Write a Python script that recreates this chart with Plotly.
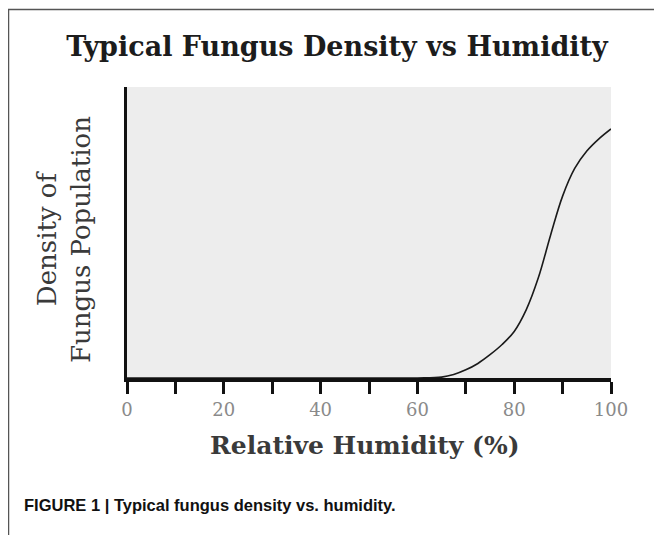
import plotly.graph_objects as go

# Data
humidity = [0, 20, 40, 60, 65, 67.5, 70, 72.5, 75, 77.5, 80, 82.5, 85, 87.5, 90, 92.5, 95, 97.5, 100]
density = [0, 0, 0, 0, 0.003, 0.012, 0.028, 0.05, 0.08, 0.115, 0.16, 0.235, 0.345, 0.49, 0.625,
           0.72, 0.78, 0.822, 0.856]
tick_values = [0, 10, 20, 30, 40, 50, 60, 70, 80, 90, 100]
tick_labels = ["0", "", "20", "", "40", "", "60", "", "80", "", "100"]

OFF = 8  # default page body margin
W, H = 662 - OFF, 535 - OFF
L, R, T, B = 127 - OFF, 654 - (611 - OFF), 87 - OFF, 527 - (378 - OFF)
pw, ph = W - L - R, H - T - B


def px(x_screen):
    return (x_screen - OFF - L) / pw


def py(y_screen):
    return (H - B - (y_screen - OFF)) / ph


fig = go.Figure()
fig.add_trace(go.Scatter(
    x=humidity, y=density, mode="lines",
    line=dict(color="#1a1a1a", width=1.6, shape="spline", smoothing=1.0),
    hoverinfo="skip", showlegend=False,
))

serif = "DejaVu Serif"
fig.update_layout(
    width=W, height=H,
    margin=dict(l=L, r=R, t=T, b=B),
    paper_bgcolor="white",
    plot_bgcolor="#ededed",
    title=dict(text="Typical Fungus Density vs Humidity",
               font=dict(family=serif, size=27, color="#1c1c1c", weight="bold"),
               x=(337 - OFF) / W, xanchor="center", xref="container",
               y=1 - (47 - OFF) / H, yanchor="middle", yref="container"),
    xaxis=dict(range=[0, 100], tickmode="array", tickvals=tick_values, ticktext=tick_labels,
               showgrid=False, zeroline=False, showline=True, linecolor="#111", linewidth=4,
               ticks="outside", ticklen=12, tickwidth=3, tickcolor="#111",
               tickfont=dict(family=serif, size=18, color="#8a8a8a")),
    yaxis=dict(range=[0, 1], showgrid=False, zeroline=False, showline=True,
               linecolor="#111", linewidth=3, showticklabels=False, ticks=""),
    shapes=[
        dict(type="path", xref="paper", yref="paper",
             path=f"M {px(8.5)} {py(560)} L {px(8.5)} {py(9.5)} L {px(700)} {py(9.5)}",
             line=dict(color="#555", width=1.5)),
    ],
    annotations=[
        dict(text="Relative Humidity (%)", xref="paper", yref="paper",
             x=px(364), y=py(445), xanchor="center", yanchor="middle", showarrow=False,
             font=dict(family=serif, size=25, color="#3a3a3a", weight="bold")),
        dict(text="Density of<br>Fungus Population", xref="paper", yref="paper",
             x=px(64), y=py(240), xanchor="center", yanchor="middle", showarrow=False,
             textangle=-90,
             font=dict(family=serif, size=26, color="#3a3a3a")),
        dict(text="FIGURE 1 | Typical fungus density vs. humidity.", xref="paper", yref="paper",
             x=px(22), y=py(505), xanchor="left", yanchor="middle", showarrow=False,
             font=dict(family="Liberation Sans", size=16.5, color="#111", weight="bold")),
    ],
)

fig.write_html("out.html")
